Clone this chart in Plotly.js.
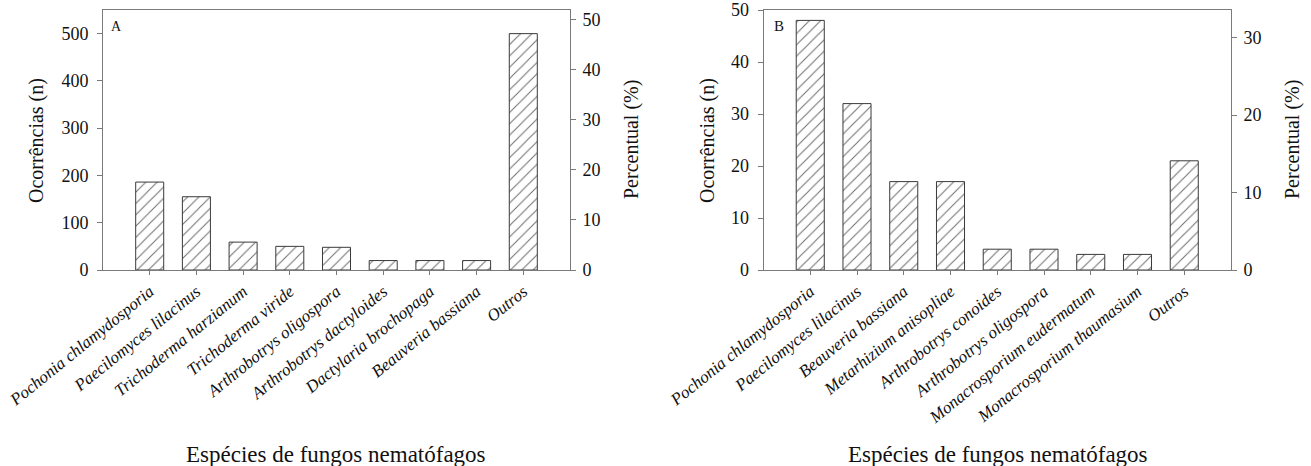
<!DOCTYPE html>
<html>
<head>
<meta charset="utf-8">
<script src="https://cdn.plot.ly/plotly-3.0.1.min.js"></script>
<style>
  html, body { margin: 0; padding: 0; background: #fff; }
  #chart { width: 1311px; height: 466px; }
</style>
</head>
<body>
<div id="chart"></div>
<script>
// Panel A: species of nematophagous fungi and number of occurrences
const speciesA = [
  'Pochonia chlamydosporia', 'Paecilomyces lilacinus', 'Trichoderma harzianum',
  'Trichoderma viride', 'Arthrobotrys oligospora', 'Arthrobotrys dactyloides',
  'Dactylaria brochopaga', 'Beauveria bassiana', 'Outros'
];
const countsA = [186, 155, 59, 50, 48, 20, 20, 20, 500];

// Panel B
const speciesB = [
  'Pochonia chlamydosporia', 'Paecilomyces lilacinus', 'Beauveria bassiana',
  'Metarhizium anisopliae', 'Arthrobotrys conoides', 'Arthrobotrys oligospora',
  'Monacrosporium eudermatum', 'Monacrosporium thaumasium', 'Outros'
];
const countsB = [48, 32, 17, 17, 4, 4, 3, 3, 21];

// Left-axis maxima and tick steps
const maxA = 550, dtickA = 100, pctTickA = 10;
const maxB = 50, dtickB = 10, pctTickB = 10;

const sum = a => a.reduce((s, v) => s + v, 0);
const totalA = sum(countsA);
const totalB = sum(countsB);
const pctA = countsA.map(v => v * 100 / totalA);
const pctB = countsB.map(v => v * 100 / totalB);

const SERIF = 'Liberation Serif';
const AXIS = '#7a7a7a';

function barTrace(x, y, xa, ya) {
  return {
    type: 'bar', x: x, y: y, xaxis: xa, yaxis: ya, width: 0.6,
    marker: {
      color: '#ffffff',
      line: { color: '#3a3a3a', width: 1 },
      pattern: { shape: '/', size: 8, solidity: 0.12, fgcolor: '#6a6a6a', bgcolor: '#ffffff' }
    },
    hoverinfo: 'x+y', showlegend: false
  };
}
// percentage series on the secondary axis (invisible points, keeps the axis tied to data)
function pctTrace(x, y, xa, ya) {
  return {
    type: 'scatter', mode: 'markers', x: x, y: y, xaxis: xa, yaxis: ya,
    marker: { size: 1, opacity: 0 }, hoverinfo: 'skip', showlegend: false
  };
}

const yDom = [1 - 270 / 466, 1 - 10 / 466];
const domA = [103 / 1311, 570 / 1311];
const domB = [763.5 / 1311, 1231 / 1311];

function xAxis(domain, anchor) {
  return {
    domain: domain, anchor: anchor, type: 'category', range: [-1, 9],
    showline: true, linecolor: AXIS, linewidth: 1, mirror: true,
    ticks: 'outside', ticklen: 4, tickcolor: AXIS, tickangle: -39,
    tickfont: { family: SERIF, size: 17, style: 'italic', color: '#111' },
    showgrid: false, zeroline: false, fixedrange: true
  };
}
function yLeft(anchor, max, dtick) {
  return {
    domain: yDom, anchor: anchor, range: [0, max], dtick: dtick, tick0: 0,
    showline: true, linecolor: AXIS, linewidth: 1,
    ticks: 'outside', ticklen: 5, tickcolor: AXIS, ticklabelstandoff: 5,
    tickfont: { family: SERIF, size: 18, color: '#111' },
    showgrid: false, zeroline: false, fixedrange: true
  };
}
function yRight(anchor, overlay, max, total, dtick) {
  return {
    domain: yDom, anchor: anchor, overlaying: overlay, side: 'right',
    range: [0, max * 100 / total], dtick: dtick, tick0: 0,
    showline: true, linecolor: AXIS, linewidth: 1,
    ticks: 'outside', ticklen: 5, tickcolor: AXIS, ticklabelstandoff: 3,
    tickfont: { family: SERIF, size: 18, color: '#111' },
    showgrid: false, zeroline: false, fixedrange: true
  };
}

const data = [
  barTrace(speciesA, countsA, 'x', 'y'),
  pctTrace(speciesA, pctA, 'x', 'y2'),
  barTrace(speciesB, countsB, 'x2', 'y3'),
  pctTrace(speciesB, pctB, 'x2', 'y4')
];

function ann(text, x, y, size, angle) {
  return {
    text: text, x: x, y: y, xref: 'paper', yref: 'paper',
    xanchor: 'center', yanchor: 'middle', showarrow: false,
    textangle: angle || 0, font: { family: SERIF, size: size, color: '#111' }
  };
}
const px = v => v / 1311;
const py = v => 1 - v / 466;

const layout = {
  width: 1311, height: 466,
  margin: { l: 0, r: 0, t: 0, b: 0 },
  paper_bgcolor: '#ffffff', plot_bgcolor: '#ffffff',
  font: { family: SERIF },
  xaxis: xAxis(domA, 'y'),
  yaxis: yLeft('x', maxA, dtickA),
  yaxis2: yRight('x', 'y', maxA, totalA, pctTickA),
  xaxis2: xAxis(domB, 'y3'),
  yaxis3: yLeft('x2', maxB, dtickB),
  yaxis4: yRight('x2', 'y3', maxB, totalB, pctTickB),
  annotations: [
    ann('A', px(116), py(26), 14),
    ann('B', px(779), py(26), 15),
    ann('Ocorrências (n)', px(36), py(141), 20, -90),
    ann('Percentual (%)', px(631), py(140), 20, -90),
    ann('Ocorrências (n)', px(707), py(141), 20, -90),
    ann('Percentual (%)', px(1292), py(140), 20, -90),
    ann('Espécies de fungos nematófagos', px(336), py(454), 23),
    ann('Espécies de fungos nematófagos', px(998), py(454), 23)
  ]
};

Plotly.newPlot('chart', data, layout, { displayModeBar: false, staticPlot: true });
</script>
</body>
</html>
